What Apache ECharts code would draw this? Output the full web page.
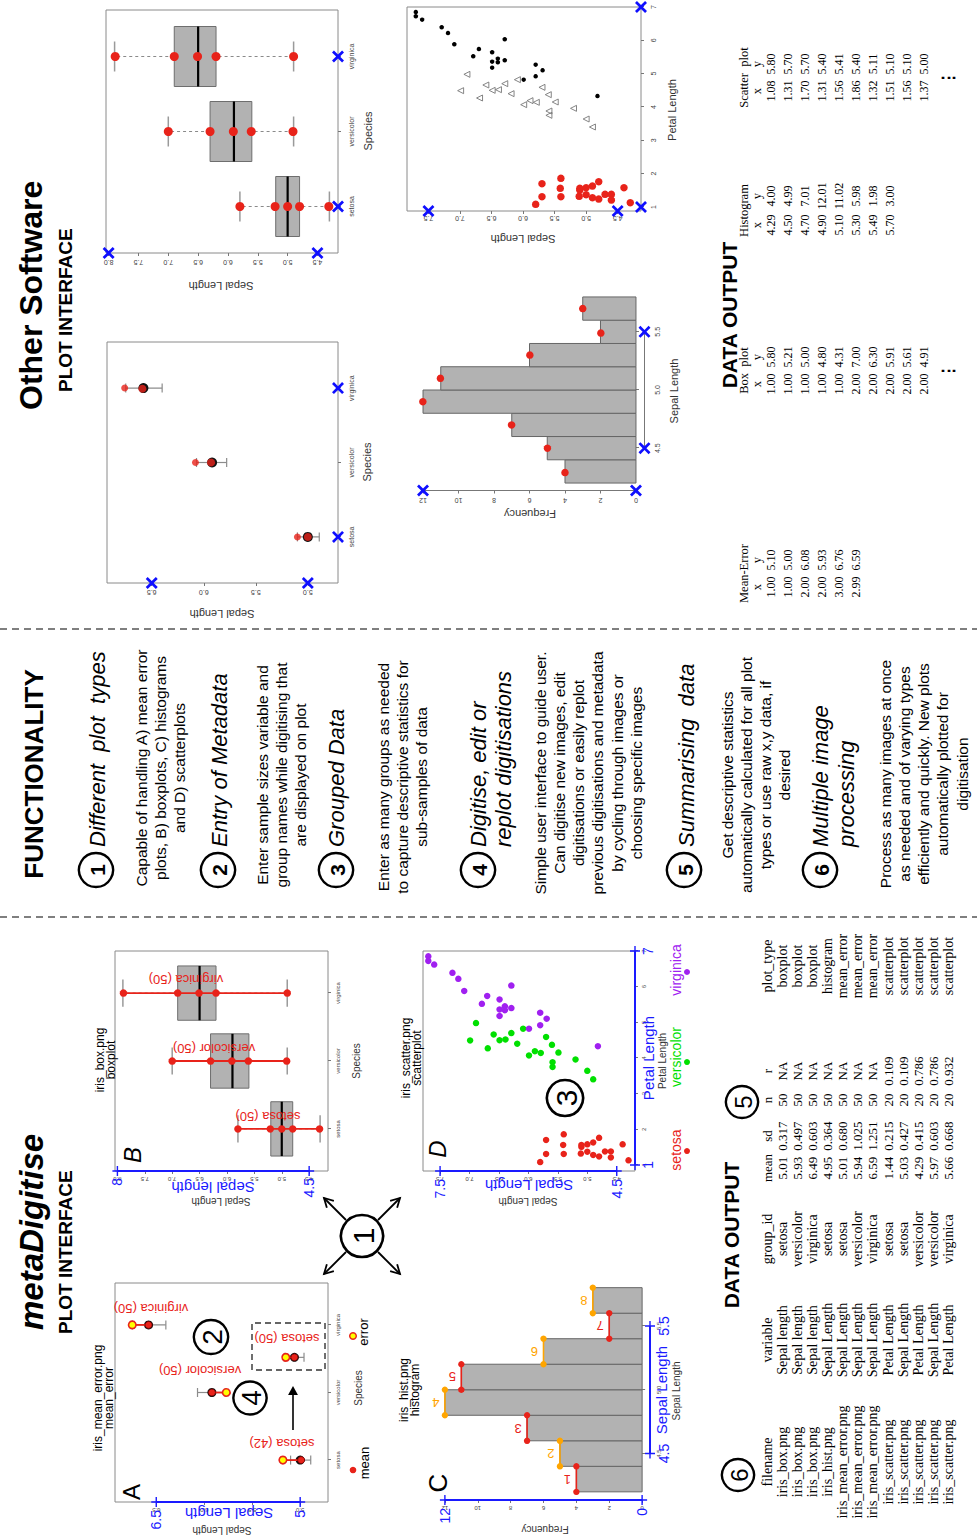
<!DOCTYPE html>
<html><head><meta charset="utf-8">
<script src="https://cdn.jsdelivr.net/npm/echarts@6/dist/echarts.min.js"></script>
<style>
html,body{margin:0;padding:0;width:977px;height:1538px;overflow:hidden;background:#fff;}
#wrap{position:absolute;left:0;top:0;width:1538px;height:977px;transform-origin:0 0;transform:translateY(1538px) rotate(-90deg);}
#chart{width:1538px;height:977px;}
</style></head><body>
<div id="wrap"><div id="chart"></div></div>
<script>
// ---------------- DATA ----------------
const speciesNames = ['setosa', 'versicolor', 'virginica'];
const speciesPos = [1, 2, 3];

// mean-error plot (R image): group means and error-bar limits
const meMean = [5.00, 5.92, 6.58];
const meLower = [4.89, 5.78, 6.40];
const meUpper = [5.10, 6.07, 6.75];
const mdMean = [4.99, 5.92, 6.58];
const mdError = [5.18, 5.77, 6.75];
const mdGroupLabels = ['setosa (42)', 'versicolor (50)', 'virginica (50)'];
// re-plotted group inside dashed box (panel A)
const mdMovedX = [2.52];
const mdMovedMean = [5.06];
const mdMovedError = [5.15];
const mdMovedLower = [4.96];
const mdMovedUpper = [5.16];

// boxplot (R image)
const boxLow = [4.3, 4.9, 4.9];
const boxQ1 = [4.8, 5.6, 6.2];
const boxMed = [5.0, 5.9, 6.5];
const boxQ3 = [5.2, 6.3, 6.9];
const boxHigh = [5.8, 7.0, 7.9];
const boxDigSetosa = [5.80, 5.21, 5.00, 4.80, 4.31];
const boxDigVersicolor = [7.00, 6.30, 5.91, 5.61, 4.91];
const boxDigVirginica = [7.89, 6.90, 6.51, 6.20, 4.90];
const boxGroupLabels = ['setosa (50)', 'versicolor (50)', 'virginica (50)'];

// histogram (R image)
const histBreaks = [4.2, 4.4, 4.6, 4.8, 5.0, 5.2, 5.4, 5.6, 5.8];
const histCounts = [4, 5, 7, 12, 11, 6, 2, 3];

// scatterplot (R image): petal length (x), sepal length (y)
const setosaPetal = [1.08, 1.31, 1.70, 1.31, 1.56, 1.86, 1.32, 1.51, 1.56, 1.37, 1.58, 1.63, 1.28, 1.76, 1.24, 1.38, 1.38, 1.21, 1.58, 1.13];
const setosaSepal = [5.80, 5.70, 5.70, 5.40, 5.41, 5.40, 5.11, 5.10, 5.10, 5.00, 5.00, 4.90, 4.90, 4.80, 4.80, 4.70, 4.60, 4.60, 4.40, 4.30];
const versicolorPetal = [4.98, 4.49, 4.27, 4.66, 4.50, 4.52, 4.70, 4.40, 4.82, 4.07, 4.19, 4.14, 4.59, 4.37, 3.88, 3.75, 4.15, 3.96, 3.64, 3.40];
const versicolorSepal = [6.89, 6.99, 6.69, 6.59, 6.49, 6.39, 6.29, 6.19, 6.09, 5.99, 5.89, 5.79, 5.70, 5.60, 5.59, 5.59, 5.49, 5.20, 5.00, 4.90];
const virginicaPetal = [6.85, 6.72, 6.62, 6.39, 6.22, 5.88, 5.74, 5.52, 5.64, 5.36, 5.18, 5.45, 5.34, 5.40, 6.03, 4.82, 5.27, 4.92, 5.10, 4.33];
const virginicaSepal = [7.70, 7.70, 7.60, 7.29, 7.19, 7.09, 6.70, 6.79, 6.49, 6.49, 6.49, 6.40, 6.40, 6.29, 6.29, 5.99, 5.80, 5.80, 5.69, 4.82];

// tick values of the R plots
const sepalTicksME = [5.0, 5.5, 6.0, 6.5];
const sepalTicksBox = [4.5, 5.0, 5.5, 6.0, 6.5, 7.0, 7.5, 8.0];
const sepalTicksSc = [4.5, 5.0, 5.5, 6.0, 6.5, 7.0, 7.5];
const freqTicks = [0, 2, 4, 6, 8, 10, 12];
const histTicks = [4.5, 5.0, 5.5];
const petalTicks = [1, 2, 3, 4, 5, 6, 7];

// calibration values
const calA_y = [5, 6.5], calA_yLab = ['5', '6.5'];
const calB_y = [4.5, 8], calB_yLab = ['4.5', '8'];
const calC_y = [0, 12], calC_yLab = ['0', '12'];
const calC_x = [4.5, 5.5], calC_xLab = ['4.5', '5.5'];
const calD_x = [1, 7], calD_xLab = ['1', '7'];
const calD_y = [4.5, 7.5], calD_yLab = ['4.5', '7.5'];
const calOME_y = [5.0, 6.5], calOME_x = [1, 3];
const calOBox_y = [4.5, 8.0], calOBox_x = [1, 3];
const calOHist_y = [0, 12], calOHist_x = [4.5, 5.5];
const calOSc_x = [1, 7], calOSc_y = [4.5, 7.5];

// metaDigitise data output table
const outHeader = ['filename', 'variable', 'group_id', 'mean', 'sd', 'n', 'r', 'plot_type'];
const outFilename = ['iris_box.png', 'iris_box.png', 'iris_box.png', 'iris_hist.png', 'iris_mean_error.png', 'iris_mean_error.png', 'iris_mean_error.png', 'iris_scatter.png', 'iris_scatter.png', 'iris_scatter.png', 'iris_scatter.png', 'iris_scatter.png'];
const outVariable = ['Sepal length', 'Sepal length', 'Sepal length', 'Sepal Length', 'Sepal Length', 'Sepal Length', 'Sepal Length', 'Petal Length', 'Sepal Length', 'Petal Length', 'Sepal Length', 'Petal Length'];
const outGroup = ['setosa', 'versicolor', 'virginica', 'setosa', 'setosa', 'versicolor', 'virginica', 'setosa', 'setosa', 'versicolor', 'versicolor', 'virginica'];
const outMean = ['5.01', '5.93', '6.49', '4.95', '5.01', '5.94', '6.59', '1.44', '5.03', '4.29', '5.97', '5.66'];
const outSd = ['0.317', '0.497', '0.603', '0.364', '0.680', '1.025', '1.251', '0.215', '0.427', '0.415', '0.603', '0.668'];
const outN = ['50', '50', '50', '50', '50', '50', '50', '20', '20', '20', '20', '20'];
const outR = ['NA', 'NA', 'NA', 'NA', 'NA', 'NA', 'NA', '0.109', '0.109', '0.786', '0.786', '0.932'];
const outPlotType = ['boxplot', 'boxplot', 'boxplot', 'histogram', 'mean_error', 'mean_error', 'mean_error', 'scatterplot', 'scatterplot', 'scatterplot', 'scatterplot', 'scatterplot'];

const meOutX = ['1.00', '1.00', '2.00', '2.00', '3.00', '2.99'];
const meOutY = ['5.10', '5.00', '6.08', '5.93', '6.76', '6.59'];
const bpOutX = ['1.00', '1.00', '1.00', '1.00', '1.00', '2.00', '2.00', '2.00', '2.00', '2.00'];
const bpOutY = ['5.80', '5.21', '5.00', '4.80', '4.31', '7.00', '6.30', '5.91', '5.61', '4.91'];
const hiOutX = ['4.29', '4.50', '4.70', '4.90', '5.10', '5.30', '5.49', '5.70'];
const hiOutY = ['4.00', '4.99', '7.01', '12.01', '11.02', '5.98', '1.98', '3.00'];
const scOutX = ['1.08', '1.31', '1.70', '1.31', '1.56', '1.86', '1.32', '1.51', '1.56', '1.37'];
const scOutY = ['5.80', '5.70', '5.70', '5.40', '5.41', '5.40', '5.11', '5.10', '5.10', '5.00'];

// functionality text
const funcHeadings = [['Different  plot  types'], ['Entry of Metadata'], ['Grouped Data'], ['Digitise, edit or', 'replot digitisations'], ['Summarising  data'], ['Multiple image', 'processing']];
const funcBodies = [
  ['Capable of handling A) mean error', 'plots, B) boxplots, C) histograms', 'and D) scatterplots'],
  ['Enter sample sizes variable and', 'group names while digitising that', 'are displayed on plot'],
  ['Enter as many groups as needed', 'to capture descriptive statistics for', 'sub-samples of data'],
  ['Simple user interface to guide user.', 'Can digitise new images, edit', 'digitisations or easily replot', 'previous digitisations and metadata', 'by cycling through images or', 'choosing specific images'],
  ['Get descriptive statistics', 'automatically calculated for all plot', 'types or use raw x,y data, if', 'desired'],
  ['Process as many images at once', 'as needed and of varying types', 'efficiently and quickly. New plots', 'automatically plotted for', 'digitisation']
];

// ---------------- STYLE ----------------
const RED = '#e8231a', ORANGE = '#ffa500', BLUE = '#1a1aff', YELLOW = '#ffff00', GREEN = '#00e000', PURPLE = '#a020f0';
const SANS = '"Liberation Sans", Arial, sans-serif';
const SERIF = '"Liberation Serif", "Times New Roman", serif';
const num = a => a.map(Number);
const zip = (a, b) => a.map((v, i) => [v, b[i]]);
const f1 = v => v.toFixed(1);
const f0 = v => String(Math.round(v));
const catFmt = v => speciesNames[Math.round(v) - 1] || '';

// panels: [left, top, width, height] in the landscape frame
const panels = [
  {box: [36, 115, 219, 213], x: [0.38, 3.62], y: [4.71, 6.93], xt: speciesPos, yt: sepalTicksME, xf: catFmt, yf: f1, frame: true, fs: 6, xm: 7, ym: 5},
  {box: [367, 115, 220, 213], x: [0.38, 3.62], y: [4.156, 8.044], xt: speciesPos, yt: sepalTicksBox, xf: catFmt, yf: f1, frame: true, fs: 6, xm: 7, ym: 5},
  {box: [38, 437, 220.5, 213], x: [4.136, 5.864], y: [-0.48, 12.48], xt: histTicks, yt: freqTicks, xf: f1, yf: f0, frame: false, fs: 6, xm: 6, ym: 5},
  {box: [367, 423, 220, 212], x: [0.83, 7.0], y: [4.19, 7.79], xt: petalTicks, yt: sepalTicksSc, xf: f0, yf: f1, frame: true, fs: 6, xm: 6, ym: 5},
  {box: [955, 107, 241, 231], x: [0.38, 3.62], y: [4.71, 6.93], xt: speciesPos, yt: sepalTicksME, xf: catFmt, yf: f1, frame: true, fs: 7, xm: 10, ym: 6},
  {box: [1285, 106, 243, 232], x: [0.38, 3.62], y: [4.156, 8.044], xt: speciesPos, yt: sepalTicksBox, xf: catFmt, yf: f1, frame: true, fs: 7, xm: 10, ym: 6},
  {box: [1047.5, 414.5, 201, 230], x: [4.136, 5.864], y: [-0.48, 12.48], xt: histTicks, yt: freqTicks, xf: f1, yf: f0, frame: false, fs: 7, xm: 9, ym: 6},
  {box: [1327, 407, 204, 234], x: [0.88, 7.0], y: [4.13, 7.84], xt: petalTicks, yt: sepalTicksSc, xf: f0, yf: f1, frame: true, fs: 7, xm: 9, ym: 4}
];

const grids = [], xAxes = [], yAxes = [];
panels.forEach((p, i) => {
  grids.push({left: p.box[0], top: p.box[1], width: p.box[2], height: p.box[3], show: p.frame, borderColor: '#8a8a8a', borderWidth: 1, backgroundColor: 'transparent', containLabel: false});
  const tick = {show: true, length: 3, lineStyle: {color: '#777', width: 1}};
  xAxes.push({type: 'value', gridIndex: i, min: p.x[0], max: p.x[1], position: 'bottom',
    axisLine: {show: false}, splitLine: {show: false},
    axisTick: Object.assign({customValues: p.xt}, tick),
    axisLabel: {customValues: p.xt, formatter: p.xf, fontSize: p.fs, color: '#444', margin: p.xm, fontFamily: SANS}});
  yAxes.push({type: 'value', gridIndex: i, min: p.y[0], max: p.y[1], position: 'left',
    axisLine: {show: false}, splitLine: {show: false},
    axisTick: Object.assign({customValues: p.yt}, tick),
    axisLabel: {customValues: p.yt, formatter: p.yf, fontSize: p.fs, color: '#444', margin: p.ym, rotate: 90, fontFamily: SANS}});
});

// ---------------- RENDERERS ----------------
function L(p, q, style) { return {type: 'line', shape: {x1: p[0], y1: p[1], x2: q[0], y2: q[1]}, style}; }
function errBarRender(params, api) {
  const x = api.value(0), a = api.coord([x, api.value(1)]), b = api.coord([x, api.value(2)]);
  const c = 4.5, st = {stroke: '#8c8c8c', lineWidth: 1.2};
  return {type: 'group', children: [L(a, b, st), L([a[0] - c, a[1]], [a[0] + c, a[1]], st), L([b[0] - c, b[1]], [b[0] + c, b[1]], st)]};
}
function segRender(color, width) {
  return (params, api) => {
    const x = api.value(0);
    return L(api.coord([x, api.value(1)]), api.coord([x, api.value(2)]), {stroke: color, lineWidth: width});
  };
}
function boxRender(params, api) {
  const x = api.value(0), lo = api.value(1), q1 = api.value(2), med = api.value(3), q3 = api.value(4), hi = api.value(5);
  const tl = api.coord([x - 0.4, q3]), br = api.coord([x + 0.4, q1]);
  const w = {stroke: '#8a8a8a', lineWidth: 1, lineDash: [3, 3]}, c = {stroke: '#9a9a9a', lineWidth: 1.5};
  return {type: 'group', children: [
    L(api.coord([x, lo]), api.coord([x, q1]), w), L(api.coord([x, q3]), api.coord([x, hi]), w),
    L(api.coord([x - 0.2, lo]), api.coord([x + 0.2, lo]), c), L(api.coord([x - 0.2, hi]), api.coord([x + 0.2, hi]), c),
    {type: 'rect', shape: {x: tl[0], y: tl[1], width: br[0] - tl[0], height: br[1] - tl[1]}, style: {fill: '#b2b2b2', stroke: '#6e6e6e', lineWidth: 1}},
    L(api.coord([x - 0.4, med]), api.coord([x + 0.4, med]), {stroke: '#000', lineWidth: 2.2})
  ]};
}
function histRender(params, api) {
  const a = api.coord([api.value(0), api.value(2)]), b = api.coord([api.value(1), 0]);
  return {type: 'rect', shape: {x: a[0], y: a[1], width: b[0] - a[0], height: b[1] - a[1]}, style: {fill: '#b2b2b2', stroke: '#666', lineWidth: 1}};
}
function histDigRender(params, api) {
  const i = params.dataIndex, col = i % 2 === 0 ? RED : ORANGE;
  const a = api.coord([api.value(0), api.value(2)]), b = api.coord([api.value(1), api.value(2)]);
  return {type: 'group', children: [
    L(a, b, {stroke: col, lineWidth: 1.6}),
    {type: 'circle', shape: {cx: a[0], cy: a[1], r: 3.2}, style: {fill: col}},
    {type: 'circle', shape: {cx: b[0], cy: b[1], r: 3.2}, style: {fill: col}},
    {type: 'text', x: (a[0] + b[0]) / 2, y: a[1] - 9, rotation: Math.PI / 2, style: {text: String(i + 1), fill: col, font: '13px ' + SANS, align: 'center', verticalAlign: 'middle', textAlign: 'center', textVerticalAlign: 'middle'}}
  ]};
}
function custom(gi, data, render, z, dims) {
  return {type: 'custom', xAxisIndex: gi, yAxisIndex: gi, data, renderItem: render, clip: false, silent: true, z: z || 2, encode: {x: 0, y: dims || [1, 2]}};
}
function sc(gi, data, o) {
  return {type: 'scatter', xAxisIndex: gi, yAxisIndex: gi, data, symbol: o.symbol || 'circle', symbolSize: o.size || 7, silent: true, z: o.z || 3,
    itemStyle: {color: o.color, borderColor: o.border || o.color, borderWidth: o.bw || 0, opacity: 1}};
}
const plusPath = 'path://M4.3,0H5.7V4.3H10V5.7H5.7V10H4.3V5.7H0V4.3H4.3Z';
const xPath = 'path://M0,1.6L1.6,0L5,3.4L8.4,0L10,1.6L6.6,5L10,8.4L8.4,10L5,6.6L1.6,10L0,8.4L3.4,5Z';
function calLine(gi, pts, labs, pos, dist) {
  return {type: 'line', xAxisIndex: gi, yAxisIndex: gi, data: pts, symbol: plusPath, symbolSize: 10, silent: true, z: 6,
    lineStyle: {color: BLUE, width: 2}, itemStyle: {color: BLUE},
    label: {show: true, position: pos, distance: dist, formatter: p => labs[p.dataIndex], color: BLUE, fontSize: 14, fontFamily: SANS}};
}
function calMarks(gi, pts) { return sc(gi, pts, {symbol: xPath, size: 12, color: '#0f0fff', z: 8}); }
function grayLine(gi, pts) {
  return {type: 'line', xAxisIndex: gi, yAxisIndex: gi, data: pts, symbol: 'none', silent: true, z: 1, lineStyle: {color: '#777', width: 1}};
}

const series = [];
// ---- Panel A (metaDigitise mean_error) ----
{
  const P = panels[0];
  const bars = speciesPos.map((x, i) => [x, meLower[i], meUpper[i]]).concat(mdMovedX.map((x, i) => [x, mdMovedLower[i], mdMovedUpper[i]]));
  series.push(custom(0, bars, errBarRender, 2));
  series.push(sc(0, zip(speciesPos, meMean).concat(zip(mdMovedX, mdMovedMean)), {color: '#111', size: 9}));
  const segs = speciesPos.map((x, i) => [x, mdMean[i], mdError[i]]).concat(mdMovedX.map((x, i) => [x, mdMovedMean[i], mdMovedError[i]]));
  series.push(custom(0, segs, segRender(RED, 1.8), 4));
  series.push(sc(0, zip(speciesPos, mdMean).concat(zip(mdMovedX, mdMovedMean)), {color: RED, size: 7, border: '#700', bw: 0.8, z: 5}));
  series.push(sc(0, zip(speciesPos, mdError).concat(zip(mdMovedX, mdMovedError)), {color: YELLOW, size: 7.5, border: RED, bw: 1.6, z: 5}));
  series.push(calLine(0, calA_y.map(v => [P.x[0], v]), calA_yLab, 'left', 3));
}
// ---- Panel B (metaDigitise boxplot) ----
{
  const P = panels[1];
  const boxes = speciesPos.map((x, i) => [x, boxLow[i], boxQ1[i], boxMed[i], boxQ3[i], boxHigh[i]]);
  series.push(custom(1, boxes, boxRender, 2, [1, 2, 3, 4, 5]));
  const digs = [boxDigSetosa, boxDigVersicolor, boxDigVirginica];
  series.push(custom(1, digs.map((d, i) => [speciesPos[i], Math.min(...d), Math.max(...d)]), segRender(RED, 1.8), 4));
  series.push(sc(1, digs.flatMap((d, i) => d.map(v => [speciesPos[i], v])), {color: RED, size: 7.5, z: 5}));
  series.push(calLine(1, calB_y.map(v => [P.x[0], v]), calB_yLab, 'left', 2));
}
// ---- Panel C (metaDigitise histogram) ----
{
  const P = panels[2];
  const bins = histCounts.map((c, i) => [histBreaks[i], histBreaks[i + 1], c]);
  series.push(custom(2, bins, histRender, 2));
  series.push(grayLine(2, [[P.x[0], freqTicks[0]], [P.x[0], freqTicks[freqTicks.length - 1]]]));
  series.push(custom(2, bins, histDigRender, 5));
  series.push(calLine(2, calC_y.map(v => [P.x[0], v]), calC_yLab, 'left', 3));
  series.push(calLine(2, calC_x.map(v => [v, P.y[0]]), calC_xLab, 'bottom', 2));
}
// ---- Panel D (metaDigitise scatter) ----
{
  const P = panels[3];
  series.push(sc(3, zip(setosaPetal, setosaSepal), {color: RED, size: 6.5}));
  series.push(sc(3, zip(versicolorPetal, versicolorSepal), {color: GREEN, size: 6.5}));
  series.push(sc(3, zip(virginicaPetal, virginicaSepal), {color: PURPLE, size: 6.5}));
  series.push(calLine(3, calD_x.map(v => [v, P.y[0]]), calD_xLab, 'bottom', 1));
  series.push(calLine(3, calD_y.map(v => [P.x[0], v]), calD_yLab, 'left', 3));
}
// ---- Other software: mean-error ----
{
  const P = panels[4];
  series.push(custom(4, speciesPos.map((x, i) => [x, meLower[i], meUpper[i]]), errBarRender, 2));
  series.push(sc(4, zip(speciesPos, meMean), {color: '#111', size: 10}));
  series.push({type: 'scatter', xAxisIndex: 4, yAxisIndex: 4, silent: true, z: 5, data: zip(num(meOutX), num(meOutY)),
    symbolSize: (v, p) => (p.dataIndex % 2 ? 8 : 7), itemStyle: {color: RED}});
  series.push(calMarks(4, calOME_y.map(v => [P.x[0], v]).concat(calOME_x.map(v => [v, P.y[0]]))));
}
// ---- Other software: boxplot ----
{
  const P = panels[5];
  series.push(custom(5, speciesPos.map((x, i) => [x, boxLow[i], boxQ1[i], boxMed[i], boxQ3[i], boxHigh[i]]), boxRender, 2, [1, 2, 3, 4, 5]));
  const digs = [boxDigSetosa, boxDigVersicolor, boxDigVirginica];
  series.push(sc(5, digs.flatMap((d, i) => d.map(v => [speciesPos[i], v])), {color: RED, size: 9, z: 5}));
  series.push(calMarks(5, calOBox_y.map(v => [P.x[0], v]).concat(calOBox_x.map(v => [v, P.y[0]]))));
}
// ---- Other software: histogram ----
{
  const P = panels[6];
  series.push(custom(6, histCounts.map((c, i) => [histBreaks[i], histBreaks[i + 1], c]), histRender, 2));
  series.push(grayLine(6, [[P.x[0], freqTicks[0]], [P.x[0], freqTicks[freqTicks.length - 1]]]));
  series.push(grayLine(6, [[histTicks[0], P.y[0]], [histTicks[histTicks.length - 1], P.y[0]]]));
  series.push(sc(6, zip(num(hiOutX), num(hiOutY)), {color: RED, size: 7.5, z: 5}));
  series.push(calMarks(6, calOHist_y.map(v => [P.x[0], v]).concat(calOHist_x.map(v => [v, P.y[0]]))));
}
// ---- Other software: scatter ----
{
  const P = panels[7];
  series.push(sc(7, zip(setosaPetal, setosaSepal), {color: RED, size: 7.5}));
  series.push(sc(7, zip(versicolorPetal, versicolorSepal), {symbol: 'triangle', color: 'rgba(0,0,0,0)', border: '#777', bw: 0.9, size: 6}));
  series.push(sc(7, zip(virginicaPetal, virginicaSepal), {color: '#000', size: 4.5}));
  series.push(calMarks(7, calOSc_x.map(v => [v, P.y[0]]).concat(calOSc_y.map(v => [P.x[0], v]))));
}

// ---------------- GRAPHIC (text, annotations) ----------------
const G = [];
function T(x, y, text, o = {}) {
  const al = o.align || 'center';
  G.push({type: 'text', x, y, rotation: o.rot ? Math.PI / 2 : 0, z: 50, silent: true,
    style: {text, fill: o.color || '#000', font: (o.font || '13px') + ' ' + (o.family || SANS), align: al, textAlign: al, verticalAlign: 'middle', textVerticalAlign: 'middle'}});
}
function Circ(cx, cy, r, n, fpx, bold, lw) {
  G.push({type: 'circle', z: 50, silent: true, shape: {cx, cy, r}, style: {fill: 'none', stroke: '#000', lineWidth: lw || 2.2}});
  T(cx, cy + 1, n, {font: (bold ? 'bold ' : '') + fpx + 'px'});
}
function Arrow(x1, y1, x2, y2, lw, head, open) {
  const ang = Math.atan2(y2 - y1, x2 - x1);
  const hx = x2 - head * Math.cos(ang), hy = y2 - head * Math.sin(ang);
  const px = -Math.sin(ang) * head * 0.55, py = Math.cos(ang) * head * 0.55;
  G.push({type: 'line', z: 50, silent: true, shape: {x1, y1, x2: open ? x2 : hx, y2: open ? y2 : hy}, style: {stroke: '#000', lineWidth: lw}});
  if (open) G.push({type: 'polyline', z: 50, silent: true, shape: {points: [[hx + px, hy + py], [x2, y2], [hx - px, hy - py]]}, style: {stroke: '#000', lineWidth: lw, fill: 'none'}});
  else G.push({type: 'polygon', z: 50, silent: true, shape: {points: [[x2, y2], [hx + px, hy + py], [hx - px, hy - py]]}, style: {fill: '#000'}});
}
function Dot(cx, cy, r, fill, stroke) {
  G.push({type: 'circle', z: 50, silent: true, shape: {cx, cy, r}, style: {fill, stroke: stroke || fill, lineWidth: stroke ? 1.4 : 0}});
}
function VDash(x) {
  G.push({type: 'line', z: 40, silent: true, shape: {x1: x, y1: 0, x2: x, y2: 977}, style: {stroke: '#555', lineWidth: 1.3, lineDash: [7, 5]}});
}

// section separators
VDash(621); VDash(909);

// metaDigitise header
T(208, 31, 'metaDigitise', {font: 'italic bold 33px', align: 'left'});
T(204, 65, 'PLOT INTERFACE', {font: 'bold 19px', align: 'left'});

// Panel A texts
T(46, 131, 'A', {font: '24px'});
T(140, 98, 'iris_mean_error.png', {font: '12px'});
T(140, 109, 'mean_error', {font: '12px'});
T(8, 222, 'Sepal Length', {font: '10px', rot: true, color: '#333'});
T(150, 358, 'Species', {font: '10px', color: '#333'});
T(25, 229, 'Sepal Length', {font: '15px', rot: true, color: BLUE});
T(95, 282, mdGroupLabels[0], {font: '13px', rot: true, color: RED});
T(168, 200, mdGroupLabels[1], {font: '13px', rot: true, color: RED});
T(230, 151, mdGroupLabels[2], {font: '13px', rot: true, color: RED});
T(200, 287, 'setosa (50)', {font: '13px', rot: true, color: RED});
G.push({type: 'rect', z: 50, silent: true, shape: {x: 168, y: 252, width: 47, height: 73}, style: {fill: 'none', stroke: '#333', lineWidth: 1.4, lineDash: [6, 4]}});
Dot(68, 353, 3.3, RED); T(75, 364, 'mean', {font: '13px'});
Dot(202, 353, 3.3, YELLOW, RED); T(206, 363, 'error', {font: '13px'});
Circ(201, 211, 17, '2', 28, false, 2.4);
Circ(140, 250, 16.5, '4', 28, false, 2.4);
Arrow(108, 293, 152, 293, 1.6, 9, false);

// Panel B texts
T(383, 132, 'B', {font: 'italic 24px'});
T(478, 100, 'iris_box.png', {font: '12px'});
T(478, 111, 'boxplot', {font: '12px'});
T(337, 221, 'Sepal Length', {font: '10px', rot: true, color: '#333'});
T(477, 356, 'Species', {font: '10px', color: '#333'});
T(351, 213, 'Sepal length', {font: '15px', rot: true, color: BLUE});
T(422, 268, boxGroupLabels[0], {font: '13px', rot: true, color: RED});
T(490, 214, boxGroupLabels[1], {font: '13px', rot: true, color: RED});
T(559, 186, boxGroupLabels[2], {font: '13px', rot: true, color: RED});

// Panel C texts
T(55, 438, 'C', {font: '26px'});
T(148, 404, 'iris_hist.png', {font: '12px'});
T(148, 415, 'histogram', {font: '12px'});
T(9, 545, 'Frequency', {font: '10px', rot: true, color: '#333'});
T(147, 676, 'Sepal Length', {font: '10px', color: '#333'});
T(148, 661, 'Sepal Length', {font: '15px', color: BLUE});

// Panel D texts
T(389, 437, 'D', {font: 'italic 24px'});
T(480, 406, 'iris_scatter.png', {font: '12px'});
T(480, 417, 'scatterplot', {font: '12px'});
T(337, 528, 'Sepal Length', {font: '10px', rot: true, color: '#333'});
T(477, 662, 'Petal Length', {font: '10px', color: '#333'});
T(480, 648, 'Petal Length', {font: '15px', color: BLUE});
T(353, 529, 'Sepal Length', {font: '15px', rot: true, color: BLUE});
T(388, 676, 'setosa', {font: '14px', color: RED}); Dot(387, 687, 3, RED);
T(481, 676, 'versicolor', {font: '14px', color: GREEN}); Dot(476, 687, 3, GREEN);
T(568, 676, 'virginica', {font: '14px', color: PURPLE}); Dot(566, 687, 3, PURPLE);
Circ(440, 565, 18, '3', 30, false, 2.6);

// central (1) with arrows
Circ(302, 362, 21, '1', 30, false, 2.6);
Arrow(318, 346, 340, 324, 1.8, 9, true);
Arrow(286, 346, 264, 324, 1.8, 9, true);
Arrow(286, 378, 264, 400, 1.8, 9, true);
Arrow(318, 378, 340, 400, 1.8, 9, true);

// Functionality
T(764, 34, 'FUNCTIONALITY', {font: 'bold 26px'});
const circY = [96, 218, 336, 478, 684, 820];
const headY = [[97], [219], [336], [478, 503], [686], [820, 846]];
const bodyY0 = [141, 262, 383, 540, 727, 885];
const bodyX = [770, 763, 761, 765, 763, 764];
funcHeadings.forEach((h, i) => {
  Circ(668, circY[i], 17, String(i + 1), 21, true, 2.4);
  h.forEach((line, j) => T(691, headY[i][j], line, {font: 'italic 22px', align: 'left'}));
  funcBodies[i].forEach((line, j) => T(bodyX[i], bodyY0[i] + j * 19.3, line, {font: '15.5px'}));
});

// metaDigitise DATA OUTPUT table
T(303, 731, 'DATA OUTPUT', {font: 'bold 21px'});
Circ(63, 738, 16, '6', 24, false, 2.4);
Circ(436, 742, 16, '5', 24, false, 2.4);
const colX = [76, 198, 299, 370, 402, 438, 467, 572];
const colFont = ['14px', '14px', '14px', '13px', '13px', '13px', '13px', '14px'];
const cols = [outFilename, outVariable, outGroup, outMean, outSd, outN, outR, outPlotType];
outHeader.forEach((h, c) => {
  T(colX[c], 767, h, {font: colFont[c], family: SERIF});
  cols[c].forEach((v, r) => T(colX[c], 782 + r * 15.15, v, {font: colFont[c], family: SERIF}));
});

// Other software header and panel texts
T(1128, 31, 'Other Software', {font: 'bold 32px', align: 'left'});
T(1146, 65, 'PLOT INTERFACE', {font: 'bold 19px', align: 'left'});
T(924, 222, 'Sepal Length', {font: '11px', rot: true, color: '#333'});
T(1076, 367, 'Species', {font: '11px', color: '#333'});
T(1252, 221, 'Sepal Length', {font: '11px', rot: true, color: '#333'});
T(1407, 368, 'Species', {font: '11px', color: '#333'});
T(1024, 530, 'Frequency', {font: '11px', rot: true, color: '#333'});
T(1147, 674, 'Sepal Length', {font: '11px', color: '#333'});
T(1299, 523, 'Sepal Length', {font: '11px', rot: true, color: '#333'});
T(1428, 672, 'Petal Length', {font: '11px', color: '#333'});

// Other software DATA OUTPUT
T(1223, 729, 'DATA OUTPUT', {font: 'bold 21px'});
const rTables = [
  {title: 'Mean-Error', cx: [951, 978], x: meOutX, y: meOutY, more: false},
  {title: 'Box  plot', cx: [1154, 1181], x: bpOutX, y: bpOutY, more: true},
  {title: 'Histogram', cx: [1313, 1342], x: hiOutX, y: hiOutY, more: false},
  {title: 'Scatter  plot', cx: [1447, 1474], x: scOutX, y: scOutY, more: true}
];
rTables.forEach(t => {
  T((t.cx[0] + t.cx[1]) / 2, 744, t.title, {font: '12.5px', family: SERIF});
  T(t.cx[0], 757, 'x', {font: '12.5px', family: SERIF});
  T(t.cx[1], 757, 'y', {font: '12.5px', family: SERIF});
  t.x.forEach((v, r) => {
    T(t.cx[0], 771 + r * 17, v, {font: '12px', family: SERIF});
    T(t.cx[1], 771 + r * 17, t.y[r], {font: '12px', family: SERIF});
  });
  if (t.more) T((t.cx[0] + t.cx[1]) / 2, 948, '\u22EE', {font: 'bold 16px', family: SERIF});
});

const chart = echarts.init(document.getElementById('chart'), null, {renderer: 'svg', width: 1538, height: 977});
chart.setOption({
  animation: false,
  backgroundColor: '#fff',
  grid: grids, xAxis: xAxes, yAxis: yAxes,
  series,
  graphic: {elements: G}
});
</script></body></html>
